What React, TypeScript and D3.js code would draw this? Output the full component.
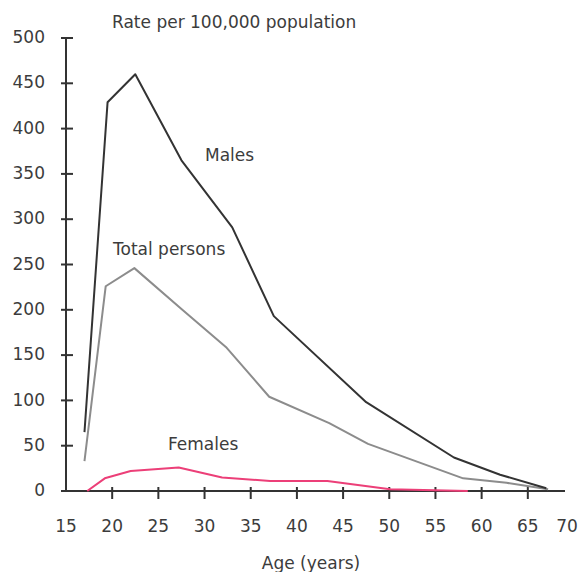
import { useEffect, useRef } from 'react';
import * as d3 from 'd3';

interface Pt {
  age: number;
  rate: number;
}

const malesAge = [17, 19.5, 22.5, 27.5, 33, 37.5, 47.5, 57, 62, 67];
const malesRate = [65, 429, 460, 365, 291, 193, 98, 37, 18, 3];

const totalAge = [17, 19.3, 22.4, 27.5, 32.4, 37, 43.5, 47.7, 58, 62.7, 67.2];
const totalRate = [33, 226, 246, 201, 158, 104, 75, 52, 14, 9, 2];

const femalesAge = [17.3, 19.2, 22, 27.2, 31.9, 37.1, 43.3, 50.1, 58.5];
const femalesRate = [0, 14, 22, 26, 15, 11, 11, 2, 0];

const xTicks = [15, 20, 25, 30, 35, 40, 45, 50, 55, 60, 65, 70];
const yTicks = [0, 50, 100, 150, 200, 250, 300, 350, 400, 450, 500];

const toPts = (ages: number[], rates: number[]): Pt[] =>
  ages.map((a, i) => ({ age: a, rate: rates[i] }));

export default function App() {
  const svgRef = useRef<SVGSVGElement>(null);
  const width = 580;
  const height = 572;

  useEffect(() => {
    if (!svgRef.current) return;
    const svg = d3.select(svgRef.current);
    svg.selectAll('*').remove();

    const font = 'DejaVu Sans, sans-serif';
    const fontSize = '17px';
    const textColor = '#3c3c3c';
    const axisColor = '#333';

    const x = d3.scaleLinear().domain([15, 70]).range([66, 574]);
    const y = d3.scaleLinear().domain([0, 500]).range([491, 38]);

    // axes
    svg.append('line')
      .attr('x1', x(15)).attr('x2', x(15))
      .attr('y1', y(500) - 1).attr('y2', y(0))
      .attr('stroke', axisColor).attr('stroke-width', 2);
    svg.append('line')
      .attr('x1', x(15) - 5).attr('x2', 565)
      .attr('y1', y(0)).attr('y2', y(0))
      .attr('stroke', axisColor).attr('stroke-width', 2);

    svg.selectAll('.ytick')
      .data(yTicks.filter(v => v > 0))
      .enter()
      .append('line')
      .attr('x1', x(15) - 5).attr('x2', x(15) + 7)
      .attr('y1', d => y(d)).attr('y2', d => y(d))
      .attr('stroke', axisColor).attr('stroke-width', 2);

    svg.selectAll('.ylab')
      .data(yTicks)
      .enter()
      .append('text')
      .attr('x', 45)
      .attr('y', d => y(d))
      .attr('dy', '0.3em')
      .attr('text-anchor', 'end')
      .style('font-family', font)
      .style('font-size', fontSize)
      .style('fill', textColor)
      .text(d => d);

    svg.selectAll('.xtick')
      .data(xTicks.filter(v => v > 15 && v < 70))
      .enter()
      .append('line')
      .attr('x1', d => x(d)).attr('x2', d => x(d))
      .attr('y1', y(0) - 4).attr('y2', y(0) + 8)
      .attr('stroke', axisColor).attr('stroke-width', 2);

    svg.selectAll('.xlab')
      .data(xTicks)
      .enter()
      .append('text')
      .attr('x', d => (d === 70 ? 567 : x(d)))
      .attr('y', 532)
      .attr('text-anchor', 'middle')
      .style('font-family', font)
      .style('font-size', fontSize)
      .style('fill', textColor)
      .text(d => d);

    // series
    const line = d3.line<Pt>()
      .x(d => x(d.age))
      .y(d => y(d.rate));

    const series = [
      { pts: toPts(totalAge, totalRate), color: '#8c8c8c' },
      { pts: toPts(malesAge, malesRate), color: '#333333' },
      { pts: toPts(femalesAge, femalesRate), color: '#ec3f78' },
    ];

    series.forEach(s => {
      svg.append('path')
        .datum(s.pts)
        .attr('d', line)
        .attr('fill', 'none')
        .attr('stroke', s.color)
        .attr('stroke-width', 2)
        .attr('stroke-linejoin', 'round');
    });

    // labels
    const labels = [
      { text: 'Rate per 100,000 population', x: 112, y: 28 },
      { text: 'Males', x: 205, y: 161 },
      { text: 'Total persons', x: 113, y: 255 },
      { text: 'Females', x: 168, y: 450 },
    ];
    labels.forEach(l => {
      svg.append('text')
        .attr('x', l.x)
        .attr('y', l.y)
        .style('font-family', font)
        .style('font-size', fontSize)
        .style('fill', textColor)
        .text(l.text);
    });

    svg.append('text')
      .attr('x', 311)
      .attr('y', 569)
      .attr('text-anchor', 'middle')
      .style('font-family', font)
      .style('font-size', fontSize)
      .style('fill', textColor)
      .text('Age (years)');
  }, []);

  return (
    <svg
      ref={svgRef}
      width={width}
      height={height}
      style={{ position: 'absolute', left: 0, top: 0, background: '#fff' }}
    ></svg>
  );
}
